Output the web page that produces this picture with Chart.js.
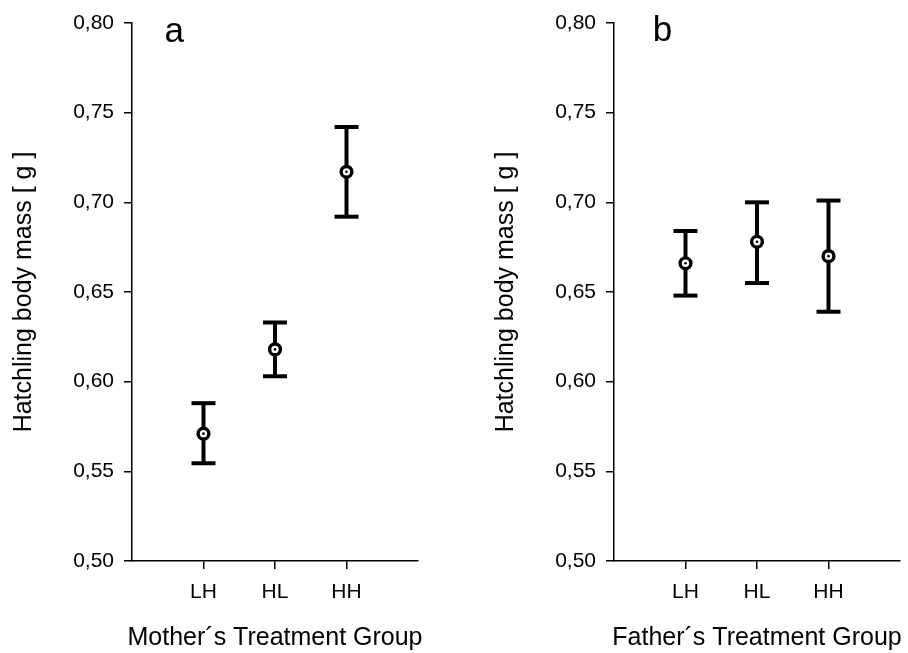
<!DOCTYPE html>
<html>
<head>
<meta charset="utf-8">
<script src="https://cdn.jsdelivr.net/npm/chart.js@4/dist/chart.umd.min.js"></script>
<style>
  html, body { margin: 0; padding: 0; background: #ffffff; overflow: hidden; }
  #wrap { position: relative; width: 908px; height: 653px; overflow: hidden; }
  canvas { position: absolute; top: 0; }
  #c1 { left: 0px; }
  #c2 { left: 482px; }
</style>
</head>
<body>
<div id="wrap">
  <canvas id="c1" width="434" height="653"></canvas>
  <canvas id="c2" width="434" height="653"></canvas>
</div>
<script>
// ---- Data ----
const categories = ['LH', 'HL', 'HH'];
const yTickValues = [0.50, 0.55, 0.60, 0.65, 0.70, 0.75, 0.80];
const yAxisTitle = 'Hatchling body mass [ g ]';

// Panel a: Mother's treatment group
const motherTitle = 'Mother´s Treatment Group';
const motherMean  = [0.571, 0.618, 0.717];
const motherLower = [0.5545, 0.603, 0.692];
const motherUpper = [0.588, 0.633, 0.742];

// Panel b: Father's treatment group
const fatherTitle = 'Father´s Treatment Group';
const fatherMean  = [0.666, 0.678, 0.670];
const fatherLower = [0.648, 0.655, 0.639];
const fatherUpper = [0.684, 0.700, 0.701];

const panelLetters = ['a', 'b'];

// ---- Chart building ----
const FONT = "'Liberation Sans', Arial, Helvetica, sans-serif";
Chart.defaults.font.family = FONT;
Chart.defaults.color = '#000000';

const textPlugin = {
  id: 'panelText',
  afterDraw(chart, args, opts) {
    const ctx = chart.ctx;
    const ca = chart.chartArea;
    ctx.save();
    ctx.fillStyle = '#000000';
    // panel letter
    ctx.font = opts.letterSize + 'px ' + FONT;
    ctx.textAlign = 'left';
    ctx.textBaseline = 'alphabetic';
    ctx.fillText(opts.letter, ca.left + opts.letterDx, opts.letterBaseline);
    // x axis title (no width squeezing)
    ctx.font = opts.titleSize + 'px ' + FONT;
    ctx.textAlign = 'center';
    ctx.fillText(opts.title, (ca.left + ca.right) / 2, opts.titleBaseline);
    ctx.restore();
  }
};

function makeChart(canvasId, mean, lower, upper, xTitle, letter, letterDx, letterBase) {
  const xs = categories.map((c, i) => i + 1);
  const datasets = [];
  datasets.push({
    data: xs.map((x, i) => ({ x: x, y: mean[i] })),
    pointStyle: 'circle', pointRadius: 1.3, pointBackgroundColor: '#000', pointBorderWidth: 0,
    order: 0
  });
  datasets.push({
    data: xs.map((x, i) => ({ x: x, y: mean[i] })),
    pointStyle: 'circle', pointRadius: 5.4, pointBackgroundColor: '#ffffff',
    pointBorderColor: '#000000', pointBorderWidth: 3.4,
    order: 1
  });
  const caps = [];
  xs.forEach((x, i) => { caps.push({ x: x, y: lower[i] }); caps.push({ x: x, y: upper[i] }); });
  datasets.push({
    data: caps,
    pointStyle: 'line', pointRadius: 12, pointBorderColor: '#000000', pointBorderWidth: 4,
    order: 2
  });
  xs.forEach((x, i) => {
    datasets.push({
      data: [{ x: x, y: lower[i] }, { x: x, y: upper[i] }],
      showLine: true, borderColor: '#000000', borderWidth: 4, borderCapStyle: 'butt',
      pointRadius: 0, order: 3
    });
  });

  return new Chart(document.getElementById(canvasId), {
    type: 'scatter',
    data: { datasets: datasets },
    options: {
      responsive: false,
      animation: false,
      devicePixelRatio: 1,
      events: [],
      layout: { padding: { top: 23, right: 0, bottom: 0, left: 0 } },
      plugins: {
        legend: { display: false },
        tooltip: { enabled: false },
        panelText: { letter: letter, letterSize: 35, letterDx: letterDx, letterBaseline: letterBase,
                     title: xTitle, titleSize: 25, titleBaseline: 644.5 }
      },
      scales: {
        x: {
          type: 'linear', min: 0, max: 4,
          afterBuildTicks(s) { s.ticks = xs.map(v => ({ value: v })); },
          afterFit(s) { s.height = 92; s.paddingLeft = 0; s.paddingRight = 0; },
          ticks: {
            callback: (v) => categories[v - 1],
            font: { size: 21 }, color: '#000', padding: 11, maxRotation: 0, autoSkip: false
          },
          grid: { display: true, drawOnChartArea: false, drawTicks: true, tickLength: 8, color: '#000', lineWidth: 1.5 },
          border: { display: true, color: '#000', width: 1.5 }
        },
        y: {
          type: 'linear', min: 0.5, max: 0.8,
          afterBuildTicks(s) { s.ticks = yTickValues.map(v => ({ value: v })); },
          afterFit(s) { s.width = 132; s.paddingTop = 0; s.paddingBottom = 0; },
          ticks: {
            callback: (v) => Number(v).toFixed(2).replace('.', ','),
            font: { size: 21 }, color: '#000', padding: 10
          },
          grid: { display: true, drawOnChartArea: false, drawTicks: true, tickLength: 8, color: '#000', lineWidth: 1.5 },
          border: { display: true, color: '#000', width: 1.5 },
          title: { display: true, text: yAxisTitle, font: { size: 25 }, color: '#000', padding: { top: 9, bottom: 0 } }
        }
      }
    },
    plugins: [textPlugin]
  });
}

makeChart('c1', motherMean, motherLower, motherUpper, motherTitle, panelLetters[0], 32.6, 42);
makeChart('c2', fatherMean, fatherLower, fatherUpper, fatherTitle, panelLetters[1], 38.7, 40.5);
</script>
</body>
</html>
